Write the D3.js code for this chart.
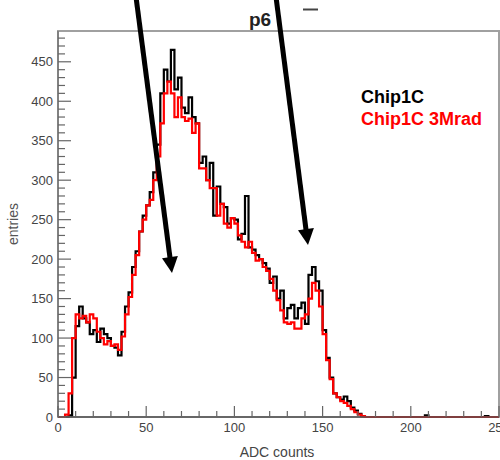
<!DOCTYPE html>
<html>
<head>
<meta charset="utf-8">
<script src="https://cdn.jsdelivr.net/npm/d3@7"></script>
<style>
  html, body { margin: 0; padding: 0; background: #fff; }
  svg { display: block; }
  text { font-family: "Liberation Sans", Arial, sans-serif; }
</style>
</head>
<body>
<svg id="chart" width="500" height="460"></svg>
<script>
// ---- data (bin width 2 ADC counts, bins start at 0,2,4,...,248) ----
const binWidth = 2;
const chipBlack = [
  0,0,0,2,50,115,140,125,120,105,
  110,95,112,105,100,90,88,78,108,140,
  158,190,210,235,255,268,285,310,345,410,
  440,425,465,415,430,392,385,405,380,372,
  322,330,300,322,255,292,270,266,245,252,
  250,225,232,280,215,212,205,200,195,188,
  170,178,150,160,125,138,142,125,138,145,
  118,180,190,172,160,110,75,50,30,25,
  22,26,20,12,8,4,1,0,0,0,
  0,0,0,0,0,0,0,0,0,0,
  0,0,0,0,2,0,0,0,0,0,
  0,0,0,0,0,0,0,0,0,0,
  0,1,0,0,0
];
const chipRed = [
  0,0,3,30,100,130,125,128,120,130,
  125,108,100,92,96,90,92,85,102,130,
  152,180,205,235,250,268,275,300,330,372,
  410,425,410,380,405,380,375,378,360,372,
  315,315,300,290,290,255,270,245,240,252,
  245,230,222,215,222,208,198,200,190,185,
  175,160,148,135,120,118,120,112,112,125,
  130,150,170,160,140,105,72,48,30,25,
  20,18,14,10,6,3,1,0,0,0,
  0,0,0,0,0,0,0,0,0,0,
  0,0,0,0,0,0,0,0,0,0,
  0,0,0,0,0,0,0,0,0,0,
  0,0,0,0,0
];
const seriesNames = ["Chip1C", "Chip1C 3Mrad"];
const seriesColors = ["#000000", "#ff0000"];
const xTicks = [0, 50, 100, 150, 200, 250];
const yTicks = [0, 50, 100, 150, 200, 250, 300, 350, 400, 450];
const titleText = "p6";
const xTitle = "ADC counts";
const yTitle = "entries";

// ---- layout ----
const svg = d3.select("#chart");
const L = 58, R = 499, T = 31, B = 417;
const x = d3.scaleLinear().domain([0, 250]).range([L, R]);
const y = d3.scaleLinear().domain([0, 489]).range([B, T]);

// frame
svg.append("rect").attr("x", L).attr("y", T).attr("width", R - L).attr("height", B - T)
  .attr("fill", "none").attr("stroke", "#a0a0a0").attr("stroke-width", 2);

// histograms
function steps(vals) {
  const pts = vals.map((v, i) => [i * binWidth, v]);
  pts.push([vals.length * binWidth, vals[vals.length - 1]]);
  return pts;
}
const line = d3.line().x(d => x(d[0])).y(d => y(d[1])).curve(d3.curveStepAfter);
[chipBlack, chipRed].forEach((vals, k) => {
  svg.append("path").datum(steps(vals)).attr("d", line)
    .attr("fill", "none").attr("stroke", seriesColors[k]).attr("stroke-width", 2.2)
    .attr("stroke-linejoin", "miter");
});

// axes lines
svg.append("line").attr("x1", L).attr("x2", R).attr("y1", B).attr("y2", B)
  .attr("stroke", "#555").attr("stroke-width", 1.5);
svg.append("line").attr("x1", L).attr("x2", L).attr("y1", B).attr("y2", T)
  .attr("stroke", "#777").attr("stroke-width", 1.5);

// y ticks (inward)
const yMinor = d3.range(0, 490, 10);
svg.append("g").selectAll("line").data(yMinor).join("line")
  .attr("x1", L).attr("x2", d => L + (d % 50 === 0 ? 13 : 7))
  .attr("y1", d => y(d)).attr("y2", d => y(d))
  .attr("stroke", "#666").attr("stroke-width", 1.2);
svg.append("g").selectAll("text").data(yTicks).join("text")
  .attr("x", 53).attr("y", d => y(d) + 4.5).attr("text-anchor", "end")
  .attr("font-size", 13).attr("fill", "#444").text(d => d);

// x ticks (inward)
const xMinor = d3.range(0, 251, 10);
svg.append("g").selectAll("line").data(xMinor).join("line")
  .attr("x1", d => x(d)).attr("x2", d => x(d))
  .attr("y1", B).attr("y2", d => B - (d % 50 === 0 ? 11 : 6))
  .attr("stroke", "#666").attr("stroke-width", 1.2);
svg.append("g").selectAll("text").data(xTicks).join("text")
  .attr("x", d => x(d)).attr("y", 432).attr("text-anchor", "middle")
  .attr("font-size", 13).attr("fill", "#444").text(d => d);

// axis titles
svg.append("text").attr("x", 277).attr("y", 457).attr("text-anchor", "middle")
  .attr("font-size", 14).attr("fill", "#444").text(xTitle);
svg.append("text").attr("transform", "translate(18,224) rotate(-90)")
  .attr("text-anchor", "middle").attr("font-size", 14).attr("fill", "#555").text(yTitle);

// title
svg.append("text").attr("x", 249).attr("y", 26).attr("font-size", 19)
  .attr("font-weight", "bold").attr("fill", "#222").text(titleText);
svg.append("line").attr("x1", 303).attr("x2", 318).attr("y1", 9.5).attr("y2", 9.5)
  .attr("stroke", "#444").attr("stroke-width", 2);

// legend
seriesNames.forEach((n, k) => {
  svg.append("text").attr("x", 361).attr("y", 103 + k * 22)
    .attr("font-size", 18).attr("font-weight", "bold")
    .attr("fill", seriesColors[k]).text(n);
});

// arrows
function arrow(x0, y0, x1, y1) {
  const dx = x1 - x0, dy = y1 - y0, len = Math.hypot(dx, dy);
  const ux = dx / len, uy = dy / len, head = 16, hw = 8;
  const bx = x1 - ux * head, by = y1 - uy * head;
  svg.append("line").attr("x1", x0).attr("y1", y0).attr("x2", bx + ux * 2).attr("y2", by + uy * 2)
    .attr("stroke", "#000").attr("stroke-width", 5);
  svg.append("path")
    .attr("d", `M${x1},${y1}L${bx - uy * hw},${by + ux * hw}L${bx + uy * hw},${by - ux * hw}Z`)
    .attr("fill", "#000");
}
arrow(136, -3, 172, 273);
arrow(276, -3, 308, 245);
</script>
</body>
</html>
